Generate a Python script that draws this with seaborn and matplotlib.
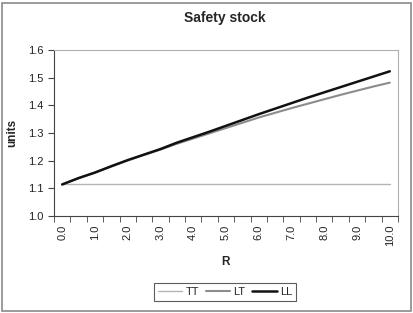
import matplotlib
matplotlib.use("Agg")
import matplotlib.pyplot as plt
import seaborn as sns
import pandas as pd
import numpy as np
from matplotlib.patches import Rectangle
from matplotlib.ticker import FixedLocator, FormatStrFormatter
from matplotlib.lines import Line2D

sns.set_style("white")
plt.rcParams['font.family'] = ['Liberation Sans', 'DejaVu Sans']

R = [0.0, 0.5, 1.0, 1.5, 2.0, 2.5, 3.0, 3.5, 4.0, 4.5, 5.0,
     5.5, 6.0, 6.5, 7.0, 7.5, 8.0, 8.5, 9.0, 9.5, 10.0]
TT = [1.114] * 21
LT = [1.114, 1.137, 1.157, 1.179, 1.201, 1.221, 1.240, 1.261, 1.280, 1.299, 1.318,
      1.337, 1.356, 1.373, 1.390, 1.406, 1.422, 1.438, 1.453, 1.468, 1.482]
LL = [1.114, 1.137, 1.157, 1.180, 1.202, 1.222, 1.242, 1.265, 1.285, 1.305, 1.326,
      1.347, 1.368, 1.388, 1.408, 1.428, 1.447, 1.466, 1.485, 1.504, 1.523]
xlabels = ["0.0", "1.0", "2.0", "3.0", "4.0", "5.0", "6.0", "7.0", "8.0", "9.0", "10.0"]
yticks = [1.0, 1.1, 1.2, 1.3, 1.4, 1.5, 1.6]

df = pd.DataFrame({"R": R * 3,
                   "units": TT + LT + LL,
                   "series": ["TT"] * 21 + ["LT"] * 21 + ["LL"] * 21})

fig = plt.figure(figsize=(4.14, 3.13), dpi=100)
ax = fig.add_axes([54/414, 1-216/313, 344/414, 166/313])

palette = {"TT": "#b4b4b4", "LT": "#8c8c8c", "LL": "#111111"}
sizes = {"TT": 1.0, "LT": 1.5, "LL": 1.8}
sns.lineplot(data=df, x="R", y="units", hue="series", palette=palette,
             size="series", sizes=sizes, ax=ax, legend=False)

ax.set_xlim(-0.25, 10.25)
ax.set_ylim(1.0, 1.6)
ax.yaxis.set_major_locator(FixedLocator(yticks))
ax.yaxis.set_major_formatter(FormatStrFormatter("%.1f"))
ax.set_xticks([float(s) for s in xlabels])
ax.set_xticklabels(xlabels, rotation=90)
ax.tick_params(axis="x", which="major", length=0, pad=6, labelsize=8, colors="#222222")
ax.xaxis.set_minor_locator(FixedLocator(np.arange(-0.25, 10.3, 0.5)))
ax.tick_params(axis="x", which="minor", length=4, direction="out", bottom=True, color="#444444")
ax.tick_params(axis="y", which="major", length=4, direction="out", left=True,
               labelsize=8, color="#444444", labelcolor="#222222")

for s in ["top", "right"]:
    ax.spines[s].set_color("#b0b0b0")
    ax.spines[s].set_linewidth(0.8)
for s in ["left", "bottom"]:
    ax.spines[s].set_color("#444444")
    ax.spines[s].set_linewidth(0.8)

ax.set_xlabel("R", fontsize=8.5, fontweight="bold", labelpad=7)
ax.set_ylabel("units", fontsize=8.5, fontweight="bold", labelpad=7)
fig.text(225/414, 1-18/313, "Safety stock", ha="center", va="center",
         fontsize=10, fontweight="bold")

handles = [Line2D([], [], color=palette[k], lw=sizes[k]) for k in ["TT", "LT", "LL"]]
leg = fig.legend(handles, ["TT", "LT", "LL"], loc="center",
                 bbox_to_anchor=(225/414, 1-292/313), ncol=3, fontsize=8,
                 frameon=True, fancybox=False, handlelength=2.2, handletextpad=0.3,
                 columnspacing=0.6, borderpad=0.35)
leg.get_frame().set_edgecolor("#333333")
leg.get_frame().set_linewidth(0.8)

fig.patches.append(Rectangle((2/414, 2/313), 409/414, 308/313, transform=fig.transFigure,
                             fill=False, edgecolor="#8a8a8a", linewidth=1.2))

fig.savefig("out.png", dpi=100)
